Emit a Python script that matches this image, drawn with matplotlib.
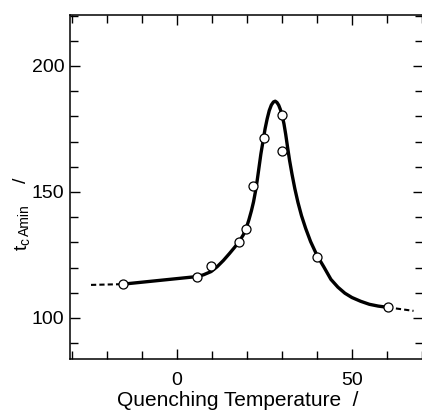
import numpy as np
import matplotlib
matplotlib.use("Agg")
import matplotlib.pyplot as plt
from matplotlib.ticker import MultipleLocator

plt.rcParams['font.family'] = ['Liberation Sans', 'DejaVu Sans']

# measured points
pts_x = [-15.4, 5.7, 9.8, 17.8, 19.8, 21.8, 24.8, 30.0, 30.0, 40.1, 60.3]
pts_y = [113.4, 116.4, 120.6, 130.3, 135.3, 152.3, 171.3, 180.4, 166.4, 124.3, 104.2]

# fitted curve
curve_x = [-15.4, 5.7, 7.6, 9.8, 11.5, 13.3, 15.0, 16.5, 17.9, 19.0, 19.8, 20.6, 21.3,
           21.9, 22.5, 23.0, 23.5, 24.0, 24.6, 25.2, 25.8, 26.4, 27.0, 27.6, 28.1,
           28.6, 29.1, 29.6, 30.1, 30.6, 31.1, 31.6, 32.2, 32.9, 33.7, 34.6, 35.6,
           36.8, 38.2, 40.0, 42.0, 44.0, 46.0, 48.0, 50.0, 52.5, 55.0, 57.5, 60.2]
curve_y = [113.4, 116.4, 117.1, 118.4, 120.3, 122.8, 125.5, 128.0, 130.5, 133.0, 135.5,
           139.0, 142.5, 146.0, 150.5, 155.0, 160.0, 165.0, 170.0, 175.0, 179.0, 182.3,
           184.5, 185.7, 186.0, 185.5, 184.4, 182.6, 180.2, 177.0, 172.8, 168.0, 162.5,
           157.0, 151.3, 145.8, 140.6, 135.5, 130.3, 124.9, 120.2, 115.3, 112.2, 109.8,
           108.1, 106.6, 105.4, 104.7, 104.2]

dash_left_x = [-24.5, -15.4]
dash_left_y = [113.1, 113.4]
dash_right_x = [60.2, 67.6]
dash_right_y = [104.2, 102.8]

W, H = 422, 413
fig = plt.figure(figsize=(W / 100, H / 100), dpi=100)
L, R, T, B = 70, 423, 15, 359
ax = fig.add_axes([L / W, (H - B) / H, (R - L) / W, (B - T) / H])

ax.plot(curve_x, curve_y, color='black', lw=2.4, solid_capstyle='round',
        solid_joinstyle='round', zorder=2)
ax.plot(dash_left_x, dash_left_y, color='black', lw=1.5, ls=(0, (2.5, 1.5)), zorder=2)
ax.plot(dash_right_x, dash_right_y, color='black', lw=1.5, ls=(0, (2.5, 1.5)), zorder=2)
ax.plot(pts_x, pts_y, ls='none', marker='o', ms=6.5, mfc='white', mec='black', mew=0.9, zorder=3)

ax.set_xlim(-30.5, 70.3)
ax.set_ylim(83.7, 220.2)

ax.xaxis.set_major_locator(MultipleLocator(50))
ax.xaxis.set_minor_locator(MultipleLocator(10))
ax.yaxis.set_major_locator(MultipleLocator(50))
ax.yaxis.set_minor_locator(MultipleLocator(10))

ax.tick_params(which='both', direction='in', top=True, right=True, width=1.0, color='black')
ax.tick_params(which='major', length=7)
ax.tick_params(which='minor', length=6)
ax.tick_params(axis='y', which='major', labelsize=14, pad=4)
ax.tick_params(axis='x', which='major', labelsize=14, pad=9.5)

for s in ['left', 'bottom', 'top']:
    ax.spines[s].set_linewidth(1.1)
ax.spines['right'].set_visible(False)

fig.text(238 / W, 1 - 401 / H, 'Quenching Temperature  /', ha='center', va='center', fontsize=15)

# y label pieces
fig.text(22 / W, 1 - 244 / H, r'$\mathregular{t_c}$', rotation=90, ha='center', va='center', fontsize=14)
fig.text(25 / W, 1 - 220 / H, 'Amin', rotation=90, ha='center', va='center', fontsize=10)
fig.text(21 / W, 1 - 180 / H, '/', rotation=90, ha='center', va='center', fontsize=14)

fig.savefig('out.png', dpi=100)
